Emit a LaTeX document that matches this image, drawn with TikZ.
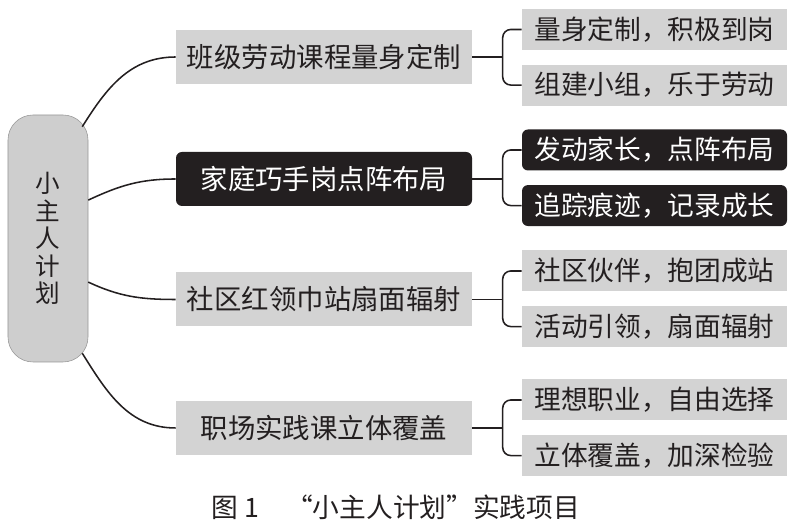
\documentclass[tikz,border=0pt]{standalone}
\usepackage{fontspec}
\setmainfont{Noto Sans CJK SC}
\usepackage{xcolor}
\usetikzlibrary{positioning}
\definecolor{boxgray}{RGB}{211, 211, 211}
\definecolor{rootgray}{RGB}{206, 206, 206}
\definecolor{edgegray}{RGB}{150, 150, 150}
\definecolor{inkblack}{RGB}{35, 31, 32}

\begin{document}
\begin{tikzpicture}[
    topic/.style={minimum width=7.4cm, minimum height=1.35cm, inner sep=0pt,
                  font=\fontsize{19.5}{19.5}\selectfont},
    item/.style={minimum width=6.625cm, minimum height=1.025cm, inner sep=0pt,
                 font=\fontsize{19}{19}\selectfont},
    lightbox/.style={fill=boxgray, text=inkblack},
    darkbox/.style={fill=inkblack, text=white, rounded corners=0.15cm},
    link/.style={draw=inkblack, line width=1.1pt},
]
    \useasboundingbox (0,0) rectangle (20,13.175);

    % root
    \node[draw=edgegray, fill=rootgray, rounded corners=0.625cm, minimum width=2cm,
          minimum height=6.175cm, align=center, text=inkblack,
          font=\fontsize{17.5}{19.5}\selectfont] (root) at (1.2,7.2125)
          {小\\主\\人\\计\\划};

    % topics
    \node[topic, lightbox] (course) at (8.1,11.75) {班级劳动课程量身定制};
    \node[topic, darkbox] (family) at (8.1,8.7) {家庭巧手岗点阵布局};
    \node[topic, lightbox] (community) at (8.1,5.6875) {社区红领巾站扇面辐射};
    \node[topic, lightbox] (career) at (8.1,2.475) {职场实践课立体覆盖};

    % items
    \node[item, lightbox] (course1) at (16.3625,12.4375) {量身定制，积极到岗};
    \node[item, lightbox, below=0.35cm of course1] (course2) {组建小组，乐于劳动};
    \node[item, darkbox] (family1) at (16.3625,9.425) {发动家长，点阵布局};
    \node[item, darkbox, below=0.35cm of family1] (family2) {追踪痕迹，记录成长};
    \node[item, lightbox] (community1) at (16.3625,6.4) {社区伙伴，抱团成站};
    \node[item, lightbox, below=0.35cm of community1] (community2) {活动引领，扇面辐射};
    \node[item, lightbox] (career1) at (16.3625,3.175) {理想职业，自由选择};
    \node[item, lightbox, below=0.35cm of career1] (career2) {立体覆盖，加深检验};

    % root branches
    \coordinate (r1) at ([xshift=-0.15cm, yshift=-0.3cm]root.north east);
    \coordinate (r2) at ([yshift=0.96cm]root.east);
    \coordinate (r3) at ([yshift=-1.09cm]root.east);
    \coordinate (r4) at ([xshift=-0.15cm, yshift=0.225cm]root.south east);
    \draw[link] (r1) to[out=58, in=180] (course.west);
    \draw[link] (r2) to[out=25, in=180] (family.west);
    \draw[link] (r3) to[out=-25, in=180] (community.west);
    \draw[link] (r4) to[out=-58, in=180] (career.west);

    % brackets
    \coordinate (j1) at ([xshift=-0.475cm]course1.west |- course.east);
    \coordinate (j2) at ([xshift=-0.475cm]family1.west |- family.east);
    \coordinate (j3) at ([xshift=-0.475cm]community1.west |- community.east);
    \coordinate (j4) at ([xshift=-0.475cm]career1.west |- career.east);
    \draw[link] (course.east) -- (j1);
    \draw[link] (family.east) -- (j2);
    \draw[link] (community.east) -- (j3);
    \draw[link] (career.east) -- (j4);
    \draw[link, rounded corners=0.2cm] (course1.west) -| (j1) |- (course2.west);
    \draw[link, rounded corners=0.2cm] (family1.west) -| (j2) |- (family2.west);
    \draw[link, rounded corners=0.2cm] (community1.west) -| (j3) |- (community2.west);
    \draw[link, rounded corners=0.2cm] (career1.west) -| (j4) |- (career2.west);

    % caption
    \node[font=\fontsize{19}{19}\selectfont, text=inkblack] (caption) at (9.9,0.5)
        {图 1\quad “小主人计划”实践项目};
\end{tikzpicture}
\end{document}
